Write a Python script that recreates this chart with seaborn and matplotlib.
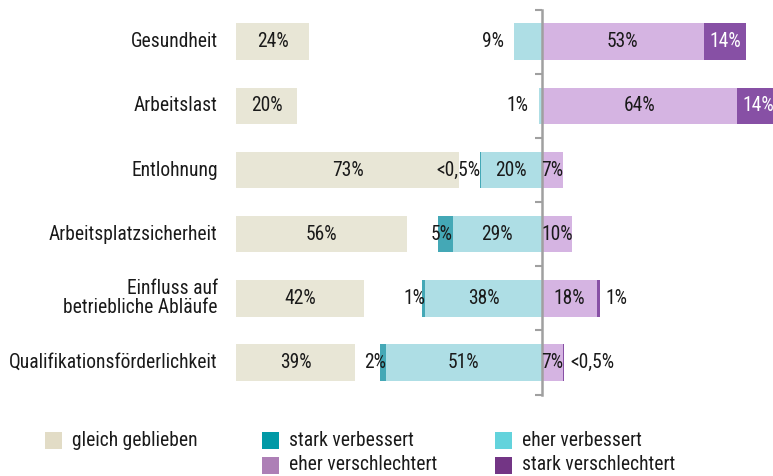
import numpy as np
import seaborn as sns
import matplotlib.pyplot as plt
from matplotlib import font_manager
from matplotlib.font_manager import FontProperties
from matplotlib.textpath import TextPath
from matplotlib.patches import Rectangle

# Daten (Anteile in %)
kategorien = ["Gesundheit", "Arbeitslast", "Entlohnung", "Arbeitsplatzsicherheit",
              "Einfluss auf\nbetriebliche Abläufe", "Qualifikationsförderlichkeit"]
gleich = [24, 20, 73, 56, 42, 39]
stark_verb = [0, 0, 0.3, 5, 1, 2]
eher_verb = [9, 1, 20, 29, 38, 51]
eher_schl = [53, 64, 7, 10, 18, 7]
stark_schl = [14, 14, 0, 0, 1, 0.3]

gleich_lbl = ["24%", "20%", "73%", "56%", "42%", "39%"]
stark_verb_lbl = ["", "", "<0,5%", "5%", "1%", "2%"]
eher_verb_lbl = ["9%", "1%", "20%", "29%", "38%", "51%"]
eher_schl_lbl = ["53%", "64%", "7%", "10%", "18%", "7%"]
stark_schl_lbl = ["14%", "14%", "", "", "1%", "<0,5%"]

legende = ["gleich geblieben", "stark verbessert", "eher verbessert",
           "eher verschlechtert", "stark verschlechtert"]

# Farben der Balken (heller) und der Legende
C_G, C_SV, C_EV, C_ES, C_SS = "#e8e6d6", "#44a8b6", "#aedee5", "#d5b4e2", "#8750a5"
L_G, L_SV, L_EV, L_ES, L_SS = "#e2dcc6", "#0099a6", "#63d3dc", "#ad7fb6", "#733585"
TXT = "#1a1a1a"
GRAU = "#a0a0a0"

sns.set_style("white")
fig = plt.figure(figsize=(7.73, 4.76), dpi=100)

# schmale Grotesk wählen: Verhältnis Textbreite / Versalhöhe wie in der Vorlage (~14.4)
namen = {f.name for f in font_manager.fontManager.ttflist}
kandidaten = ["Roboto Condensed", "Pathway Gothic One", "Barlow Condensed", "Saira ExtraCondensed",
              "IBM Plex Sans Condensed", "Encode Sans Condensed"]
schrift, abstand, cap100 = "DejaVu Sans", 1e9, 73.0
for k in kandidaten:
    if k not in namen:
        continue
    fp = FontProperties(family=k)
    breite_txt = TextPath((0, 0), "Qualifikationsförderlichkeit", size=100, prop=fp).get_extents().width
    hoehe_h = TextPath((0, 0), "H", size=100, prop=fp).get_extents().height
    d = abs(breite_txt / hoehe_h - 14.4)
    if d < abstand:
        schrift, abstand, cap100 = k, d, hoehe_h
plt.rcParams["font.family"] = [schrift, "DejaVu Sans"]

# Größe: längste Kategorie ~209 px breit, Versalhöhe höchstens ~14.5 px
probe = fig.text(0, 0, "Qualifikationsförderlichkeit", fontsize=15)
w = probe.get_window_extent(fig.canvas.get_renderer()).width
probe.remove()
FS = min(15 * 209 / w, 14.5 * 72 / cap100)

ax = fig.add_axes([236 / 773, 1 - 394.6 / 476, 537 / 773, 385 / 476])
ax_g = ax.twiny()
ax.set_zorder(ax_g.get_zorder() + 1)
ax.patch.set_visible(False)

breite = 0.57
verb_ges = np.array(stark_verb) + np.array(eher_verb)
schl_ges = np.array(eher_schl) + np.array(stark_schl)

opts = dict(orient="h", width=breite, saturation=1, errorbar=None, linewidth=0)
sns.barplot(x=-verb_ges, y=kategorien, color=C_SV, ax=ax, **opts)
sns.barplot(x=-np.array(eher_verb), y=kategorien, color=C_EV, ax=ax, **opts)
sns.barplot(x=schl_ges, y=kategorien, color=C_SS, ax=ax, **opts)
sns.barplot(x=eher_schl, y=kategorien, color=C_ES, ax=ax, **opts)
sns.barplot(x=gleich, y=kategorien, color=C_G, ax=ax_g, **opts)

ax.set_xlim(-100, 75.7)
ax_g.set_xlim(0, 175.7)
ax.set_ylim(5.5, -0.5)

# Beschriftungen
for i, kat in enumerate(kategorien):
    ax.text(-106, i, kat, ha="right", va="center", fontsize=FS, color=TXT,
            linespacing=1.0, multialignment="right")
    ax_g.text(gleich[i] / 2, i, gleich_lbl[i], ha="center", va="center", fontsize=FS, color=TXT)

    if eher_verb[i] >= 15:
        ax.text(-eher_verb[i] / 2, i, eher_verb_lbl[i], ha="center", va="center", fontsize=FS, color=TXT)
    else:
        ax.text(-verb_ges[i] - 3.3, i, eher_verb_lbl[i], ha="right", va="center", fontsize=FS, color=TXT)
    if stark_verb_lbl[i]:
        ax.text(-eher_verb[i], i, stark_verb_lbl[i], ha="right", va="center", fontsize=FS, color=TXT)

    ax.text(eher_schl[i] / 2, i, eher_schl_lbl[i], ha="center", va="center", fontsize=FS, color=TXT)
    if stark_schl_lbl[i]:
        if stark_schl[i] >= 5:
            ax.text(eher_schl[i] + stark_schl[i] / 2, i, stark_schl_lbl[i], ha="center",
                    va="center", fontsize=FS, color="white")
        else:
            ax.text(schl_ges[i] + 2, i, stark_schl_lbl[i], ha="left", va="center",
                    fontsize=FS, color=TXT)

# Mittelachse mit Strichen zwischen den Kategorien
for s in ["top", "right", "bottom"]:
    ax.spines[s].set_visible(False)
ax.spines["left"].set_position(("data", 0))
ax.spines["left"].set_color(GRAU)
ax.spines["left"].set_linewidth(1.8)
ax.set_yticks(np.arange(-0.5, 6.0, 1.0))
ax.set_yticklabels([])
ax.tick_params(axis="y", left=True, length=5, width=1.5, color=GRAU, direction="out")
ax.set_xticks([])
ax.set_xlabel("")
ax.set_ylabel("")
for s in ax_g.spines.values():
    s.set_visible(False)
ax_g.set_xticks([])
ax_g.set_xlabel("")

# Legende
eintraege = [(legende[0], L_G, 45, 440), (legende[1], L_SV, 262, 440), (legende[2], L_EV, 495, 440),
             (legende[3], L_ES, 262, 465), (legende[4], L_SS, 495, 465)]
for text, farbe, x0, y0 in eintraege:
    fig.add_artist(Rectangle((x0 / 773, 1 - (y0 + 8.5) / 476), 17 / 773, 17 / 476,
                             transform=fig.transFigure, color=farbe, lw=0))
    fig.text((x0 + 27) / 773, 1 - y0 / 476, text, ha="left", va="center", fontsize=FS, color=TXT)

fig.savefig("out.png", dpi=100)
